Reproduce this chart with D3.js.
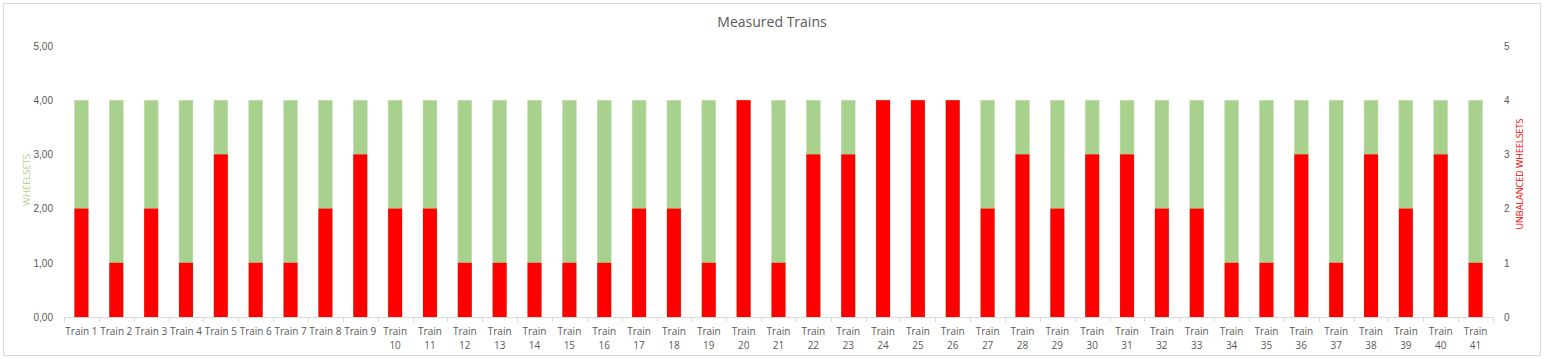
<!DOCTYPE html>
<html><head><meta charset="utf-8">
<script src="https://cdn.jsdelivr.net/npm/d3@7"></script>
<style>body{margin:0;background:#fff;}svg{display:block;font-family:"Open Sans","Liberation Sans",sans-serif;}</style>
</head><body>
<svg id="c" width="1545" height="359"></svg>
<script>
const categories = d3.range(1, 42).map(i => "Train " + i);
const wheelsets = Array(41).fill(4);
const unbalanced = [2,1,2,1,3,1,1,2,3,2,2,1,1,1,1,1,2,2,1,4,1,3,3,4,4,4,2,3,2,3,3,2,2,1,1,3,1,3,2,3,1];
const leftTicks = [0,1,2,3,4,5];
const rightTicks = [0,1,2,3,4,5];

const svg = d3.select("#c");
const W = 1545, H = 359;
const m = {left: 64, right: 52, top: 46, bottom: 42};
const x0 = m.left, x1 = W - m.right, yTop = m.top, yBot = H - m.bottom;

svg.append("rect").attr("x",3.5).attr("y",3.5).attr("width",1537).attr("height",352)
  .attr("fill","#fff").attr("stroke","#d9d9d9");

const x = d3.scaleBand().domain(categories).range([x0, x1]).paddingInner(0.6).paddingOuter(0.3);
const yL = d3.scaleLinear().domain([0,5]).range([yBot, yTop]);
const yR = d3.scaleLinear().domain([0,5]).range([yBot, yTop]);

svg.append("text").attr("x", 772).attr("y", 27).attr("text-anchor","middle")
  .attr("font-size", 14).attr("fill","#595959").text("Measured Trains");

// bars
svg.append("g").selectAll("rect").data(categories).join("rect")
  .attr("x", d => x(d)).attr("width", x.bandwidth())
  .attr("y", (d,i) => yL(wheelsets[i])).attr("height", (d,i) => yL(0) - yL(wheelsets[i]))
  .attr("fill", "#A9D18E").attr("stroke","#C5E0B4").attr("stroke-width",0.5);
svg.append("g").selectAll("rect").data(categories).join("rect")
  .attr("x", d => x(d)).attr("width", x.bandwidth())
  .attr("y", (d,i) => yR(unbalanced[i])).attr("height", (d,i) => yR(0) - yR(unbalanced[i]))
  .attr("fill", "#FF0000");

// left axis
const gl = svg.append("g").attr("transform", `translate(${x0},0)`)
  .call(d3.axisLeft(yL).tickValues(leftTicks).tickSize(0).tickPadding(11).tickFormat(d => d3.format(".2f")(d).replace(".", ",")));
gl.select(".domain").remove();
gl.selectAll("text").attr("font-size", 10).attr("fill", "#595959").attr("font-family","inherit");

// right axis
const gr = svg.append("g").attr("transform", `translate(${x1},0)`)
  .call(d3.axisRight(yR).tickValues(rightTicks).tickSize(0).tickPadding(11).tickFormat(d3.format("d")));
gr.select(".domain").remove();
gr.selectAll("text").attr("font-size", 10).attr("fill", "#595959").attr("font-family","inherit");

// x axis
const step = x.step();
svg.append("line").attr("x1", x0).attr("x2", x1).attr("y1", yBot + 0.5).attr("y2", yBot + 0.5).attr("stroke", "#d9d9d9");
const bounds = categories.map(c => x(c) - x.paddingInner()*step/2).concat([x1]);
svg.append("g").selectAll("line").data(bounds).join("line")
  .attr("x1", d => Math.round(d)+0.5).attr("x2", d => Math.round(d)+0.5)
  .attr("y1", yBot).attr("y2", yBot + 5).attr("stroke", "#d9d9d9");
const xl = svg.append("g").selectAll("text").data(categories).join("text")
  .attr("x", d => x(d) + x.bandwidth()/2).attr("y", yBot + 18)
  .attr("text-anchor","middle").attr("font-size", 10).attr("fill","#595959");
xl.each(function(d){
  const t = d3.select(this);
  const parts = d.split(" ");
  if (+parts[1] >= 10) {
    t.append("tspan").attr("x", t.attr("x")).attr("dy", 0).text(parts[0]);
    t.append("tspan").attr("x", t.attr("x")).attr("dy", 14).text(parts[1]);
  } else t.text(d);
});

// axis titles
svg.append("text").attr("transform", `translate(30,180) rotate(-90)`)
  .attr("text-anchor","middle").attr("font-size", 9.5).attr("fill","#A9D18E").text("WHEELSETS");
svg.append("text").attr("transform", `translate(1523,174) rotate(-90)`)
  .attr("text-anchor","middle").attr("font-size", 9).attr("fill","#FF0000").text("UNBALANCED WHEELSETS");
</script>
</body></html>
